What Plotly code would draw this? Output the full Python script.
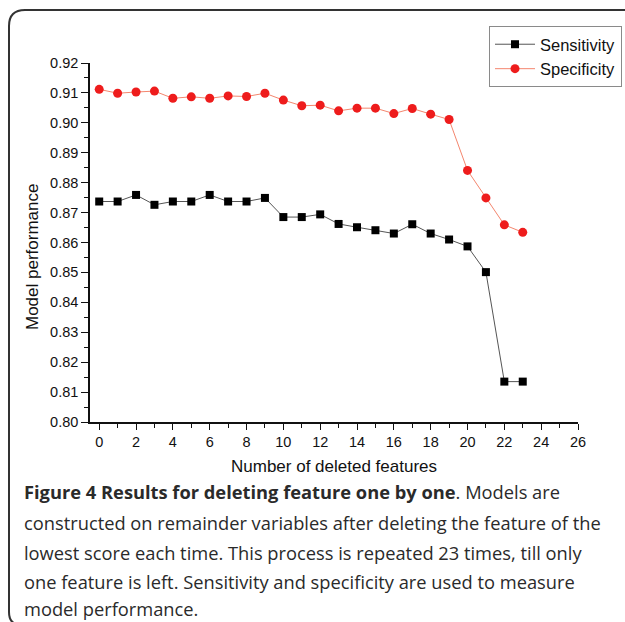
import plotly.graph_objects as go

deleted = list(range(24))
sensitivity = [0.8737, 0.8737, 0.8759, 0.8726, 0.8737, 0.8737, 0.8759, 0.8737, 0.8737, 0.8749,
               0.8685, 0.8685, 0.8694, 0.8662, 0.8651, 0.8641, 0.8630, 0.8661, 0.8630, 0.8610,
               0.8587, 0.8501, 0.8135, 0.8135]
specificity = [0.9112, 0.9099, 0.9103, 0.9106, 0.9082, 0.9087, 0.9082, 0.9090, 0.9088, 0.9099,
               0.9076, 0.9057, 0.9059, 0.9040, 0.9049, 0.9049, 0.9031, 0.9048, 0.9029, 0.9011,
               0.8841, 0.8749, 0.8659, 0.8634]
caption_bold = "Figure 4 Results for deleting feature one by one"
caption_lines = [
    ". Models are",
    "constructed on remainder variables after deleting the feature of the",
    "lowest score each time. This process is repeated 23 times, till only",
    "one feature is left. Sensitivity and specificity are used to measure",
    "model performance.",
]

W, H = 625, 622
L, R, T, B = 90, 47, 63, 200
pw, ph = W - L - R, H - T - B

def px(x):
    return (x - L) / pw

def py(y):
    return (H - B - y) / ph

fig = go.Figure()
fig.add_trace(go.Scatter(
    x=deleted, y=sensitivity, name="Sensitivity", mode="lines+markers",
    line=dict(color="#555555", width=1),
    marker=dict(symbol="square", size=8, color="#000000"),
))
fig.add_trace(go.Scatter(
    x=deleted, y=specificity, name="Specificity", mode="lines+markers",
    line=dict(color="#f4866e", width=1),
    marker=dict(symbol="circle", size=9, color="#ee1c1c"),
))

axis_font = dict(family="Arial, Liberation Sans, sans-serif", size=14.5, color="#111")
fig.update_xaxes(
    range=[-0.5, 26], tickvals=list(range(0, 27, 2)), showgrid=False, zeroline=False,
    showline=True, linecolor="#111", linewidth=1.5, ticks="outside", ticklen=6, tickwidth=1.3,
    tickcolor="#111", tickfont=axis_font,
    minor=dict(tickvals=list(range(1, 27, 2)), ticks="outside", ticklen=4, tickwidth=1.2, tickcolor="#111"),
)
fig.update_yaxes(
    range=[0.80, 0.92], dtick=0.01, tickformat=".2f", showgrid=False, zeroline=False,
    showline=True, linecolor="#111", linewidth=1.5, ticks="outside", ticklen=7, tickwidth=1.3,
    tickcolor="#111", tickfont=axis_font,
    minor=dict(dtick=0.005, ticks="outside", ticklen=4, tickwidth=1.2, tickcolor="#111"),
)

title_font = dict(family="Arial, Liberation Sans, sans-serif", size=17, color="#111")
annotations = [
    dict(text="Number of deleted features", x=px(334), y=py(467), xref="paper", yref="paper",
         showarrow=False, font=title_font, xanchor="center", yanchor="middle"),
    dict(text="Model performance", x=px(32), y=py(257), xref="paper", yref="paper", textangle=-90,
         showarrow=False, font=title_font, xanchor="center", yanchor="middle"),
]
cap_font = dict(family="Open Sans, Noto Sans, sans-serif", size=18.3, color="#2a2a2a")
cap_y = [491, 522, 552, 581, 608]
annotations.append(dict(
    text="<b>" + caption_bold + "</b>" + caption_lines[0], x=px(22), y=py(cap_y[0]),
    xref="paper", yref="paper", showarrow=False, font=cap_font, xanchor="left", yanchor="middle"))
for line, yy in zip(caption_lines[1:], cap_y[1:]):
    annotations.append(dict(text=line, x=px(22), y=py(yy), xref="paper", yref="paper",
                            showarrow=False, font=cap_font, xanchor="left", yanchor="middle"))

# rounded frame
r = 16
frame = (f"M {px(626)},{py(10)} L {px(9 + r)},{py(10)} Q {px(9)},{py(10)} {px(9)},{py(10 + r)} "
         f"L {px(9)},{py(612)} Q {px(9)},{py(622)} {px(16)},{py(624)}")
fig.add_shape(type="path", path=frame, xref="paper", yref="paper",
              line=dict(color="#333", width=2))

fig.update_layout(
    width=W, height=H, margin=dict(l=L, r=R, t=T, b=B, autoexpand=False),
    paper_bgcolor="white", plot_bgcolor="white",
    showlegend=True,
    legend=dict(x=px(489), y=py(26), xanchor="left", yanchor="top",
                bordercolor="#8a8a8a", borderwidth=1, bgcolor="white",
                font=dict(family="Arial, Liberation Sans, sans-serif", size=16.5, color="#111"),
                itemwidth=40, tracegroupgap=0),
    annotations=annotations,
)
fig.write_html("out.html")
